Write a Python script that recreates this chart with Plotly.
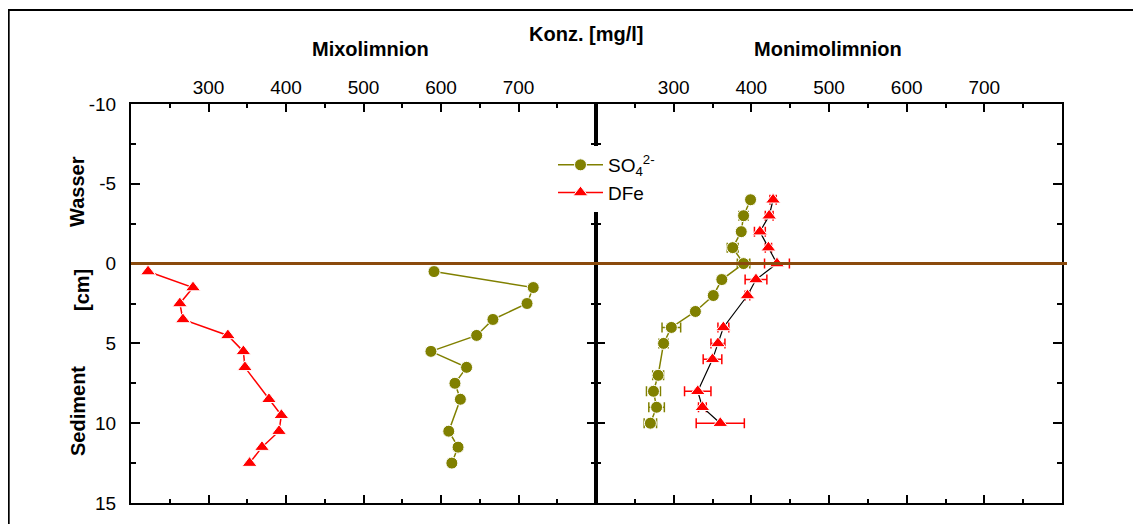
import plotly.graph_objects as go

# page body adds an 8px margin, so the paper is placed 8px into the window
OFF = 8
W, H = 1141 - OFF, 524 - OFF

# Mixolimnion profiles
mixo_depth_fe = [0.5, 1.5, 2.5, 3.5, 4.5, 5.5, 6.5, 8.5, 9.5, 10.5, 11.5, 12.5]
mixo_fe = [222, 280, 263, 267, 325, 345, 347, 378, 394, 391, 369, 353]
mixo_depth_so4 = [0.5, 1.5, 2.5, 3.5, 4.5, 5.5, 6.5, 7.5, 8.5, 10.5, 11.5, 12.5]
mixo_so4 = [591, 719, 711, 667, 646, 587, 633, 618, 625, 610, 622, 614]

# Monimolimnion profiles (with error)
moni_depth_so4 = [-4, -3, -2, -1, 0, 1, 2, 3, 4, 5, 7, 8, 9, 10]
moni_so4 = [399, 390, 387, 376, 390, 362, 351, 328, 297, 287, 280, 274, 278, 270]
moni_so4_err = [4, 6, 3, 7, 8, 4, 4, 3, 12, 6, 7, 9, 10, 8]
moni_depth_fe = [-4, -3, -2, -1, 0, 1, 2, 4, 5, 6, 8, 9, 10]
moni_fe = [428, 423, 411, 422, 433, 406, 395, 364, 357, 350, 331, 337, 360]
moni_fe_err = [4, 5, 7, 4, 16, 14, 3, 7, 9, 12, 17, 5, 31]

x_ticks = [300, 400, 500, 600, 700]
x_minor = [250, 350, 450, 550, 650, 750]
y_ticks = [-10, -5, 0, 5, 10, 15]
y_labels = ["-10", "-5", "0", "5", "10", "15"]
y_minor = [-7.5, -2.5, 2.5, 7.5, 12.5]

OLIVE = "#808000"
RED = "#ff0000"
BROWN = "#8a4a0c"
FONT = "Arial, Liberation Sans, sans-serif"


def px_x(p):
    return (p - OFF) / W


def px_y(p):
    return 1 - (p - OFF) / H


fig = go.Figure()

circle = dict(symbol="circle", size=12, color=OLIVE, line=dict(color="white", width=1))
tri = dict(symbol="triangle-up", size=13, color=RED, line=dict(color="white", width=1))

# left panel
fig.add_trace(go.Scatter(
    x=mixo_so4, y=mixo_depth_so4, mode="lines+markers", name="SO<sub>4</sub><sup>2-</sup>",
    line=dict(color=OLIVE, width=1.5), marker=circle,
    xaxis="x", yaxis="y",
))
fig.add_trace(go.Scatter(
    x=mixo_fe, y=mixo_depth_fe, mode="lines+markers", name="DFe",
    line=dict(color=RED, width=1.5), marker=tri,
    xaxis="x", yaxis="y",
))

# right panel
fig.add_trace(go.Scatter(
    x=moni_so4, y=moni_depth_so4, mode="lines+markers", showlegend=False,
    line=dict(color=OLIVE, width=1.5), marker=circle,
    error_x=dict(type="data", array=moni_so4_err, color=OLIVE, thickness=1.5, width=5),
    xaxis="x2", yaxis="y2",
))
fig.add_trace(go.Scatter(
    x=moni_fe, y=moni_depth_fe, mode="lines+markers", showlegend=False,
    line=dict(color="black", width=1.2), marker=tri,
    error_x=dict(type="data", array=moni_fe_err, color=RED, thickness=1.5, width=5),
    xaxis="x2", yaxis="y2",
))

xdom1 = [px_x(131), px_x(596)]
xdom2 = [px_x(596), px_x(1062)]
ydom = [px_y(503), px_y(104)]

xcommon = dict(
    range=[200, 800], side="top", tickmode="array", tickvals=x_ticks,
    ticks="inside", ticklen=8, tickwidth=2, tickcolor="black",
    minor=dict(tickmode="array", tickvals=x_minor, ticks="inside", ticklen=4, tickwidth=2, tickcolor="black"),
    showline=True, linewidth=2, linecolor="black", mirror="allticks",
    showgrid=False, zeroline=False, ticklabelstandoff=0, automargin=False,
    tickfont=dict(family=FONT, size=19, color="black"),
)
ycommon = dict(
    range=[15, -10], domain=ydom, tickmode="array", tickvals=y_ticks, ticktext=y_labels,
    ticks="inside", ticklen=9, tickwidth=2, tickcolor="black",
    minor=dict(tickmode="array", tickvals=y_minor, ticks="inside",
               ticklen=5, tickwidth=2, tickcolor="black"),
    showline=True, linewidth=2, linecolor="black", mirror="allticks",
    showgrid=False, zeroline=False, ticklabelstandoff=9, automargin=False,
    tickfont=dict(family=FONT, size=19, color="black"),
)

fig.update_layout(
    width=W, height=H,
    margin=dict(l=0, r=0, t=0, b=0, pad=0),
    paper_bgcolor="white", plot_bgcolor="white",
    font=dict(family=FONT, color="black"),
    xaxis=dict(domain=xdom1, anchor="y", **xcommon),
    xaxis2=dict(domain=xdom2, anchor="y2", **xcommon),
    yaxis=dict(anchor="x", **ycommon),
    yaxis2=dict(anchor="x2", matches="y", showticklabels=False, **ycommon),
    legend=dict(
        x=px_x(553), y=px_y(146), xanchor="left", yanchor="top",
        bgcolor="white", borderwidth=0, font=dict(family=FONT, size=19),
        tracegroupgap=0, itemwidth=45,
    ),
    showlegend=True,
)

# sediment-water interface
fig.add_shape(type="line", xref="paper", yref="y", x0=px_x(131), x1=px_x(1067), y0=0, y1=0,
              line=dict(color=BROWN, width=3))

# outer frame
fig.add_shape(type="rect", xref="paper", yref="paper", x0=0.0006, x1=1.02, y0=-0.05, y1=px_y(10),
              line=dict(color="black", width=2), layer="below")

bold = dict(family=FONT, size=20, color="black")
labels = [
    ("Konz. [mg/l]", 586, 34, 0),
    ("Mixolimnion", 370, 49, 0),
    ("Monimolimnion", 828, 49, 0),
    ("Wasser", 77, 192, -90),
    ("[cm]", 82, 290, -90),
    ("Sediment", 78, 411, -90),
]
for text, xp, yp, ang in labels:
    fig.add_annotation(text=f"<b>{text}</b>", x=px_x(xp), y=px_y(yp), xref="paper", yref="paper",
                       xanchor="center", yanchor="middle", showarrow=False, textangle=ang, font=bold)

fig.write_html("out.html")
